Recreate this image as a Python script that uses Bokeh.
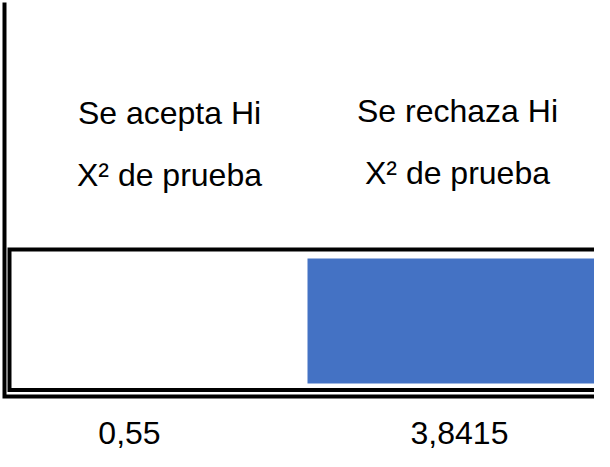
from bokeh.plotting import figure
from bokeh.models import Range1d
from bokeh.core.properties import value
from bokeh.embed import file_html
from bokeh.resources import INLINE

# Data
regiones = ["Se acepta Hi", "Se rechaza Hi"]
estadistico = ["X² de prueba", "X² de prueba"]
valores = ["0,55", "3,8415"]

# Layout (pixel-like data space, y grows downward)
W, H = 594, 451
region_x = [169, 457]
linea1_y = [112.5, 110]
linea2_y = [174, 172]
valor_x = [129, 459]
valor_y = [432, 432]

p = figure(width=W, height=H, output_backend="svg", toolbar_location=None,
           x_range=Range1d(0, W), y_range=Range1d(H, 0), min_border=0)
p.axis.visible = False
p.grid.visible = False
p.outline_line_color = None
p.background_fill_color = "white"
p.border_fill_color = "white"

# axis L-shape
p.line(x=[4, 4, 800], y=[2, 396, 396], line_color="black", line_width=4, line_join="miter")
# acceptance/rejection box
p.quad(left=[9], right=[800], top=[249], bottom=[389.5], fill_color=None,
       line_color="black", line_width=4, line_join="miter")
# rejection region
p.quad(left=[307], right=[800], top=[258], bottom=[383], fill_color="#4472C4",
       line_color=None)

font = value("Liberation Sans")
p.text(x=region_x, y=linea1_y, text=regiones, text_font=font, text_font_size="32px",
       text_align="center", text_baseline="alphabetic", text_color="black")
p.text(x=region_x, y=linea2_y, text=estadistico, text_font=font, text_font_size="32px",
       text_align="center", text_baseline="alphabetic", text_color="black")
p.text(x=valor_x, y=valor_y, text=valores, text_font=font, text_font_size="32px",
       text_align="center", text_baseline="alphabetic", text_color="black")

open("out.html", "w").write(file_html(p, INLINE))
